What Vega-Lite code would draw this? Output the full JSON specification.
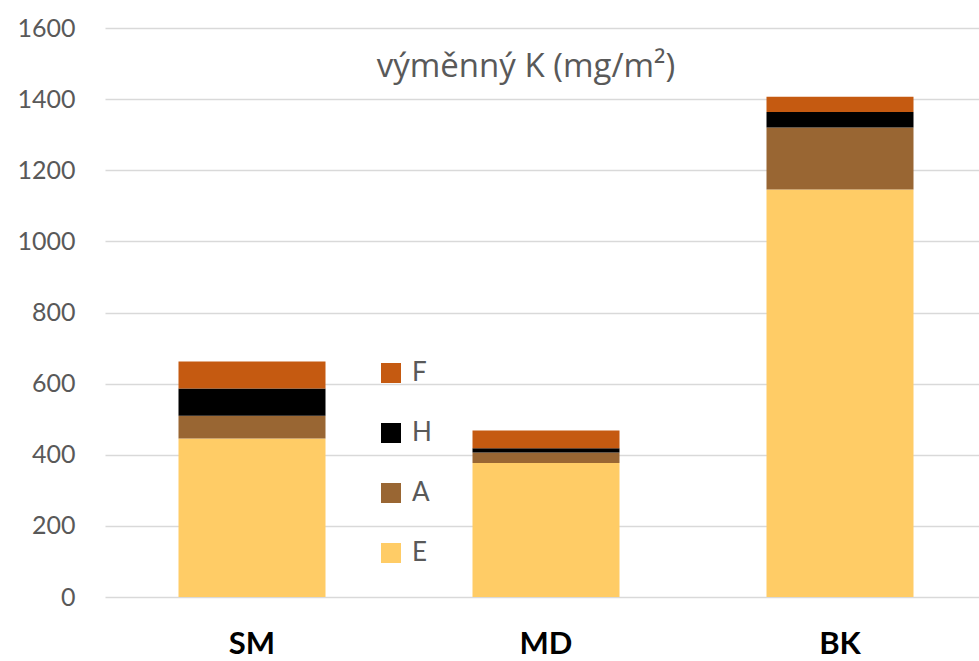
{
  "$schema": "https://vega.github.io/schema/vega-lite/v6.json",
  "width": 882,
  "height": 569,
  "autosize": {"type": "none"},
  "padding": {"left": 105, "top": 28, "right": 0, "bottom": 64},
  "background": "white",
  "title": {"text": "výměnný K (mg/m²)", "anchor": "middle", "frame": "group", "offset": -68, "dx": -20, "font": "Open Sans", "fontSize": 33, "fontWeight": "normal", "color": "#595959"},
  "data": {"values": [
    {"site": "SM", "layer": "E", "K": 446},
    {"site": "SM", "layer": "A", "K": 64},
    {"site": "SM", "layer": "H", "K": 76},
    {"site": "SM", "layer": "F", "K": 76},
    {"site": "MD", "layer": "E", "K": 377},
    {"site": "MD", "layer": "A", "K": 29},
    {"site": "MD", "layer": "H", "K": 12},
    {"site": "MD", "layer": "F", "K": 50},
    {"site": "BK", "layer": "E", "K": 1146},
    {"site": "BK", "layer": "A", "K": 174},
    {"site": "BK", "layer": "H", "K": 44},
    {"site": "BK", "layer": "F", "K": 43}
  ]},
  "transform": [{"calculate": "indexof(['E','A','H','F'], datum.layer)", "as": "stackOrder"}],
  "mark": {"type": "bar"},
  "encoding": {
    "x": {"field": "site", "type": "nominal", "sort": ["SM", "MD", "BK"],
      "scale": {"paddingInner": 0.5, "paddingOuter": 0.25},
      "axis": {"title": null, "labelAngle": 0, "domain": false, "ticks": false, "labelFont": "Lato", "labelFontSize": 31, "labelFontWeight": "bold", "labelColor": "#000000", "labelPadding": 32}},
    "y": {"field": "K", "type": "quantitative", "stack": "zero",
      "scale": {"domain": [0, 1600]},
      "axis": {"title": null, "values": [0,200,400,600,800,1000,1200,1400,1600], "format": "d", "domain": false, "ticks": false, "labelFont": "Lato", "labelFontSize": 25, "labelColor": "#595959", "labelPadding": 30, "gridColor": "#d9d9d9", "gridWidth": 1.5}},
    "order": {"field": "stackOrder", "type": "quantitative", "sort": "ascending"},
    "color": {"field": "layer", "type": "nominal",
      "scale": {"domain": ["F", "H", "A", "E"], "range": ["#C55A11", "#000000", "#996633", "#FFCC66"]},
      "legend": {"title": null, "orient": "none", "legendX": 273, "legendY": 332, "symbolType": "square", "symbolSize": 400, "symbolStrokeWidth": 0, "labelFont": "Lato", "labelFontSize": 26, "labelColor": "#595959", "rowPadding": 34, "labelOffset": 8}}
  },
  "config": {"view": {"stroke": null}}
}
